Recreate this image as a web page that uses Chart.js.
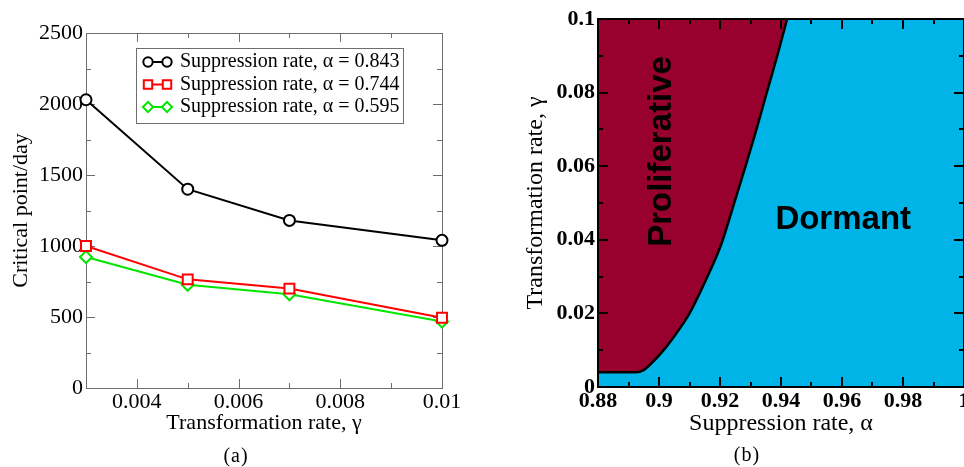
<!DOCTYPE html>
<html>
<head>
<meta charset="utf-8">
<script src="https://cdn.jsdelivr.net/npm/chart.js@4.4.1/dist/chart.umd.min.js"></script>
<style>
  html, body { margin: 0; padding: 0; background: #fff; overflow: hidden; }
  body { width: 964px; height: 467px; position: relative; }
  canvas { position: absolute; top: 0; }
  #chartA { left: 0; }
  #chartB { left: 480px; }
  .cap { position: absolute; font-family: "Liberation Serif", serif; font-size: 20px;
         letter-spacing: 1px; transform: translate(-50%, -50%); color: #000; }
</style>
</head>
<body>
<canvas id="chartA" width="470" height="467"></canvas>
<canvas id="chartB" width="500" height="467"></canvas>
<div class="cap" style="left:236px; top:455px">(a)</div>
<div class="cap" style="left:747px; top:454px">(b)</div>
<script>
// ---- panel (a): critical point vs transformation rate ----
var gammaValues = [0.003, 0.005, 0.007, 0.01];
var critical843 = [2030, 1400, 1180, 1040];
var critical744 = [1000, 765, 700, 495];
var critical595 = [922, 727, 660, 468];
var seriesLabels = ['Suppression rate, \u03b1 = 0.843', 'Suppression rate, \u03b1 = 0.744', 'Suppression rate, \u03b1 = 0.595'];
var xTicksA = [0.004, 0.006, 0.008, 0.01];
var xMinorA = [0.003, 0.005, 0.007, 0.009];
var yTicksA = [0, 500, 1000, 1500, 2000, 2500];
var yMinorA = [250, 750, 1250, 1750, 2250];

// ---- panel (b): phase boundary between proliferative and dormant ----
var boundaryAlpha = [0.88, 0.8925, 0.8948, 0.897, 0.902, 0.9069, 0.910, 0.9151, 0.9205, 0.9243, 0.928, 0.9316, 0.935, 0.9386, 0.942];
var boundaryGamma = [0.004, 0.004, 0.0045, 0.006, 0.0105, 0.016, 0.020, 0.0286, 0.039, 0.049, 0.059, 0.069, 0.079, 0.0895, 0.1];
var xTicksB = [0.88, 0.9, 0.92, 0.94, 0.96, 0.98, 1];
var xMinorB = [0.89, 0.91, 0.93, 0.95, 0.97, 0.99];
var yTicksB = [0, 0.02, 0.04, 0.06, 0.08, 0.1];
var yMinorB = [0.01, 0.03, 0.05, 0.07, 0.09];
var regionNames = ['Proliferative', 'Dormant'];
var regionAlpha = [0.9009, 0.9604];
var regionGamma = [0.064, 0.0454];

var SERIF = '"Liberation Serif", "Times New Roman", serif';
var SANS = '"Liberation Sans", Arial, sans-serif';

function fmt(v) { return String(parseFloat(Number(v).toFixed(4))); }
function pts(xs, ys) { return xs.map(function (x, i) { return {x: x, y: ys[i]}; }); }
function fixTicks(list) { return function (s) { s.ticks = list.map(function (v) { return {value: v}; }); }; }

function drawMarker(ctx, style, x, y, r, color, lw) {
  ctx.save();
  ctx.strokeStyle = color; ctx.fillStyle = '#fff'; ctx.lineWidth = lw;
  ctx.beginPath();
  if (style === 'circle') {
    ctx.arc(x, y, r, 0, 2 * Math.PI);
  } else if (style === 'rect') {
    var s = r * Math.SQRT1_2;
    ctx.rect(x - s, y - s, 2 * s, 2 * s);
  } else {
    ctx.moveTo(x - r, y); ctx.lineTo(x, y - r); ctx.lineTo(x + r, y); ctx.lineTo(x, y + r); ctx.closePath();
  }
  ctx.fill(); ctx.stroke();
  ctx.restore();
}

// box frame with inward ticks on all four sides
function drawFrame(chart, o) {
  var ctx = chart.ctx, a = chart.chartArea, x = chart.scales.x, y = chart.scales.y;
  var off = (o.width % 2) ? 0.5 : 0;
  ctx.save();
  ctx.strokeStyle = o.color; ctx.lineWidth = o.width;
  ctx.beginPath();
  function xt(vals, len) {
    vals.forEach(function (v) {
      var px = Math.round(x.getPixelForValue(v)) + off;
      ctx.moveTo(px, a.bottom); ctx.lineTo(px, a.bottom - len);
      ctx.moveTo(px, a.top); ctx.lineTo(px, a.top + len);
    });
  }
  function yt(vals, len) {
    vals.forEach(function (v) {
      var py = Math.round(y.getPixelForValue(v)) + off;
      ctx.moveTo(a.left, py); ctx.lineTo(a.left + len, py);
      ctx.moveTo(a.right, py); ctx.lineTo(a.right - len, py);
    });
  }
  xt(o.xMajor, o.major); xt(o.xMinor, o.minor);
  yt(o.yMajor, o.major); yt(o.yMinor, o.minor);
  ctx.stroke();
  ctx.strokeRect(a.left + off, a.top + off, a.right - a.left, a.bottom - a.top);
  ctx.restore();
}

var frameTicks = {
  id: 'frameTicks',
  beforeDatasetsDraw: function (chart, args, o) { if (o.layer === 'before') drawFrame(chart, o); },
  afterDatasetsDraw: function (chart, args, o) { if (o.layer !== 'before') drawFrame(chart, o); }
};

var boxLegend = {
  id: 'boxLegend',
  afterDraw: function (chart, args, o) {
    var ctx = chart.ctx;
    ctx.save();
    ctx.fillStyle = '#fff';
    ctx.fillRect(o.left, o.top, o.width, o.height);
    ctx.strokeStyle = o.borderColor; ctx.lineWidth = 1;
    ctx.strokeRect(o.left + 0.5, o.top + 0.5, o.width, o.height);
    ctx.font = o.font; ctx.textBaseline = 'middle'; ctx.textAlign = 'left';
    chart.data.datasets.forEach(function (ds, i) {
      var yy = o.top + o.firstRow + i * o.rowGap;
      var x0 = o.left + o.symbolStart, x1 = x0 + o.symbolWidth;
      ctx.strokeStyle = ds.borderColor; ctx.lineWidth = ds.borderWidth;
      ctx.beginPath(); ctx.moveTo(x0, yy); ctx.lineTo(x1, yy); ctx.stroke();
      drawMarker(ctx, ds.pointStyle, x0, yy, ds.pointRadius * 0.85, ds.borderColor, ds.pointBorderWidth);
      drawMarker(ctx, ds.pointStyle, x1, yy, ds.pointRadius * 0.85, ds.borderColor, ds.pointBorderWidth);
      ctx.fillStyle = '#000';
      ctx.fillText(ds.label, o.left + o.textStart, yy);
    });
    ctx.restore();
  }
};

function markerSet(label, data, color, style, r) {
  return {
    label: label, data: data, borderColor: color, borderWidth: 2,
    pointStyle: style, pointRadius: r, pointBorderWidth: 2,
    pointBackgroundColor: '#fff', pointBorderColor: color,
    fill: false, tension: 0, clip: false
  };
}

var chartA = new Chart(document.getElementById('chartA').getContext('2d'), {
  type: 'line',
  data: {
    datasets: [
      markerSet(seriesLabels[0], pts(gammaValues, critical843), '#000000', 'circle', 5.5),
      markerSet(seriesLabels[1], pts(gammaValues, critical744), '#ff0000', 'rect', 7),
      markerSet(seriesLabels[2], pts(gammaValues, critical595), '#00e600', 'rectRot', 6)
    ]
  },
  options: {
    responsive: false,
    animation: false,
    layout: { padding: { left: 0, top: 33, right: 28, bottom: 31 } },
    plugins: {
      legend: { display: false },
      tooltip: { enabled: false },
      frameTicks: { layer: 'before', color: '#6e6e6e', width: 1, major: 9, minor: 5,
                    xMajor: xTicksA, xMinor: xMinorA, yMajor: yTicksA, yMinor: yMinorA },
      boxLegend: { left: 136, top: 48, width: 267, height: 75, borderColor: '#6e6e6e',
                   firstRow: 14, rowGap: 22.5, symbolStart: 12, symbolWidth: 19, textStart: 44,
                   font: '20px ' + SERIF }
    },
    scales: {
      x: {
        type: 'linear', min: 0.003, max: 0.01,
        grid: { display: false, drawTicks: false }, border: { display: false },
        afterBuildTicks: fixTicks(xTicksA),
        afterFit: function (s) { s.height = 48; },
        ticks: { color: '#000', padding: 1, maxRotation: 0, autoSkip: false,
                 font: { family: SERIF, size: 22 }, callback: fmt },
        title: { display: true, text: 'Transformation rate, \u03b3', color: '#000', padding: 0,
                 font: { family: SERIF, size: 22, lineHeight: 1.2 } }
      },
      y: {
        type: 'linear', min: 0, max: 2500,
        grid: { display: false, drawTicks: false }, border: { display: false },
        afterBuildTicks: fixTicks(yTicksA),
        afterFit: function (s) { s.width = 86; },
        ticks: { color: '#000', padding: 3, autoSkip: false,
                 font: { family: SERIF, size: 22 }, callback: fmt },
        title: { display: true, text: 'Critical point/day', color: '#000', padding: { top: 8.5, bottom: 0 },
                 font: { family: SERIF, size: 22, lineHeight: 1.2 } }
      }
    }
  },
  plugins: [frameTicks, boxLegend]
});

var areaFill = {
  id: 'areaFill',
  beforeDraw: function (chart, args, o) {
    var a = chart.chartArea, ctx = chart.ctx;
    ctx.save(); ctx.fillStyle = o.color;
    ctx.fillRect(a.left, a.top, a.right - a.left, a.bottom - a.top);
    ctx.restore();
  }
};

var regionText = {
  id: 'regionText',
  afterDatasetsDraw: function (chart, args, o) {
    var ctx = chart.ctx, x = chart.scales.x, y = chart.scales.y;
    ctx.save();
    ctx.font = o.font; ctx.fillStyle = '#000';
    ctx.textAlign = 'center'; ctx.textBaseline = 'middle';
    regionNames.forEach(function (name, i) {
      ctx.save();
      ctx.translate(x.getPixelForValue(regionAlpha[i]), y.getPixelForValue(regionGamma[i]));
      if (o.rotated[i]) ctx.rotate(-Math.PI / 2);
      ctx.fillText(name, 0, 0);
      ctx.restore();
    });
    ctx.restore();
  }
};

var chartB = new Chart(document.getElementById('chartB').getContext('2d'), {
  type: 'line',
  data: {
    datasets: [{
      label: 'boundary',
      data: pts(boundaryAlpha, boundaryGamma),
      borderColor: '#000', borderWidth: 2.5,
      backgroundColor: '#98002e',
      fill: 'end', pointRadius: 0,
      cubicInterpolationMode: 'monotone'
    }]
  },
  options: {
    responsive: false,
    animation: false,
    layout: { padding: { left: 0, top: 19, right: 16, bottom: 29 } },
    plugins: {
      legend: { display: false },
      tooltip: { enabled: false },
      areaFill: { color: '#00b4e8' },
      regionText: { font: 'bold 33px ' + SANS, rotated: [true, false] },
      frameTicks: { layer: 'after', color: '#000', width: 2, major: 10, minor: 5,
                    xMajor: xTicksB, xMinor: xMinorB, yMajor: yTicksB, yMinor: yMinorB }
    },
    scales: {
      x: {
        type: 'linear', min: 0.88, max: 1,
        grid: { display: false, drawTicks: false }, border: { display: false },
        afterBuildTicks: fixTicks(xTicksB),
        afterFit: function (s) { s.height = 51; },
        ticks: { color: '#000', padding: 1.5, maxRotation: 0, autoSkip: false,
                 font: { family: SERIF, size: 22, weight: 'bold' }, callback: fmt },
        title: { display: true, text: 'Suppression rate, \u03b1', color: '#000', padding: 0,
                 font: { family: SERIF, size: 24, lineHeight: 1.2 } }
      },
      y: {
        type: 'linear', min: 0, max: 0.1,
        grid: { display: false, drawTicks: false }, border: { display: false },
        afterBuildTicks: fixTicks(yTicksB),
        afterFit: function (s) { s.width = 118; },
        ticks: { color: '#000', padding: 3, autoSkip: false,
                 font: { family: SERIF, size: 22, weight: 'bold' }, callback: fmt },
        title: { display: true, text: 'Transformation rate, \u03b3', color: '#000', padding: { top: 41.6, bottom: 0 },
                 font: { family: SERIF, size: 24, lineHeight: 1.2 } }
      }
    }
  },
  plugins: [areaFill, regionText, frameTicks]
});
</script>
</body>
</html>
